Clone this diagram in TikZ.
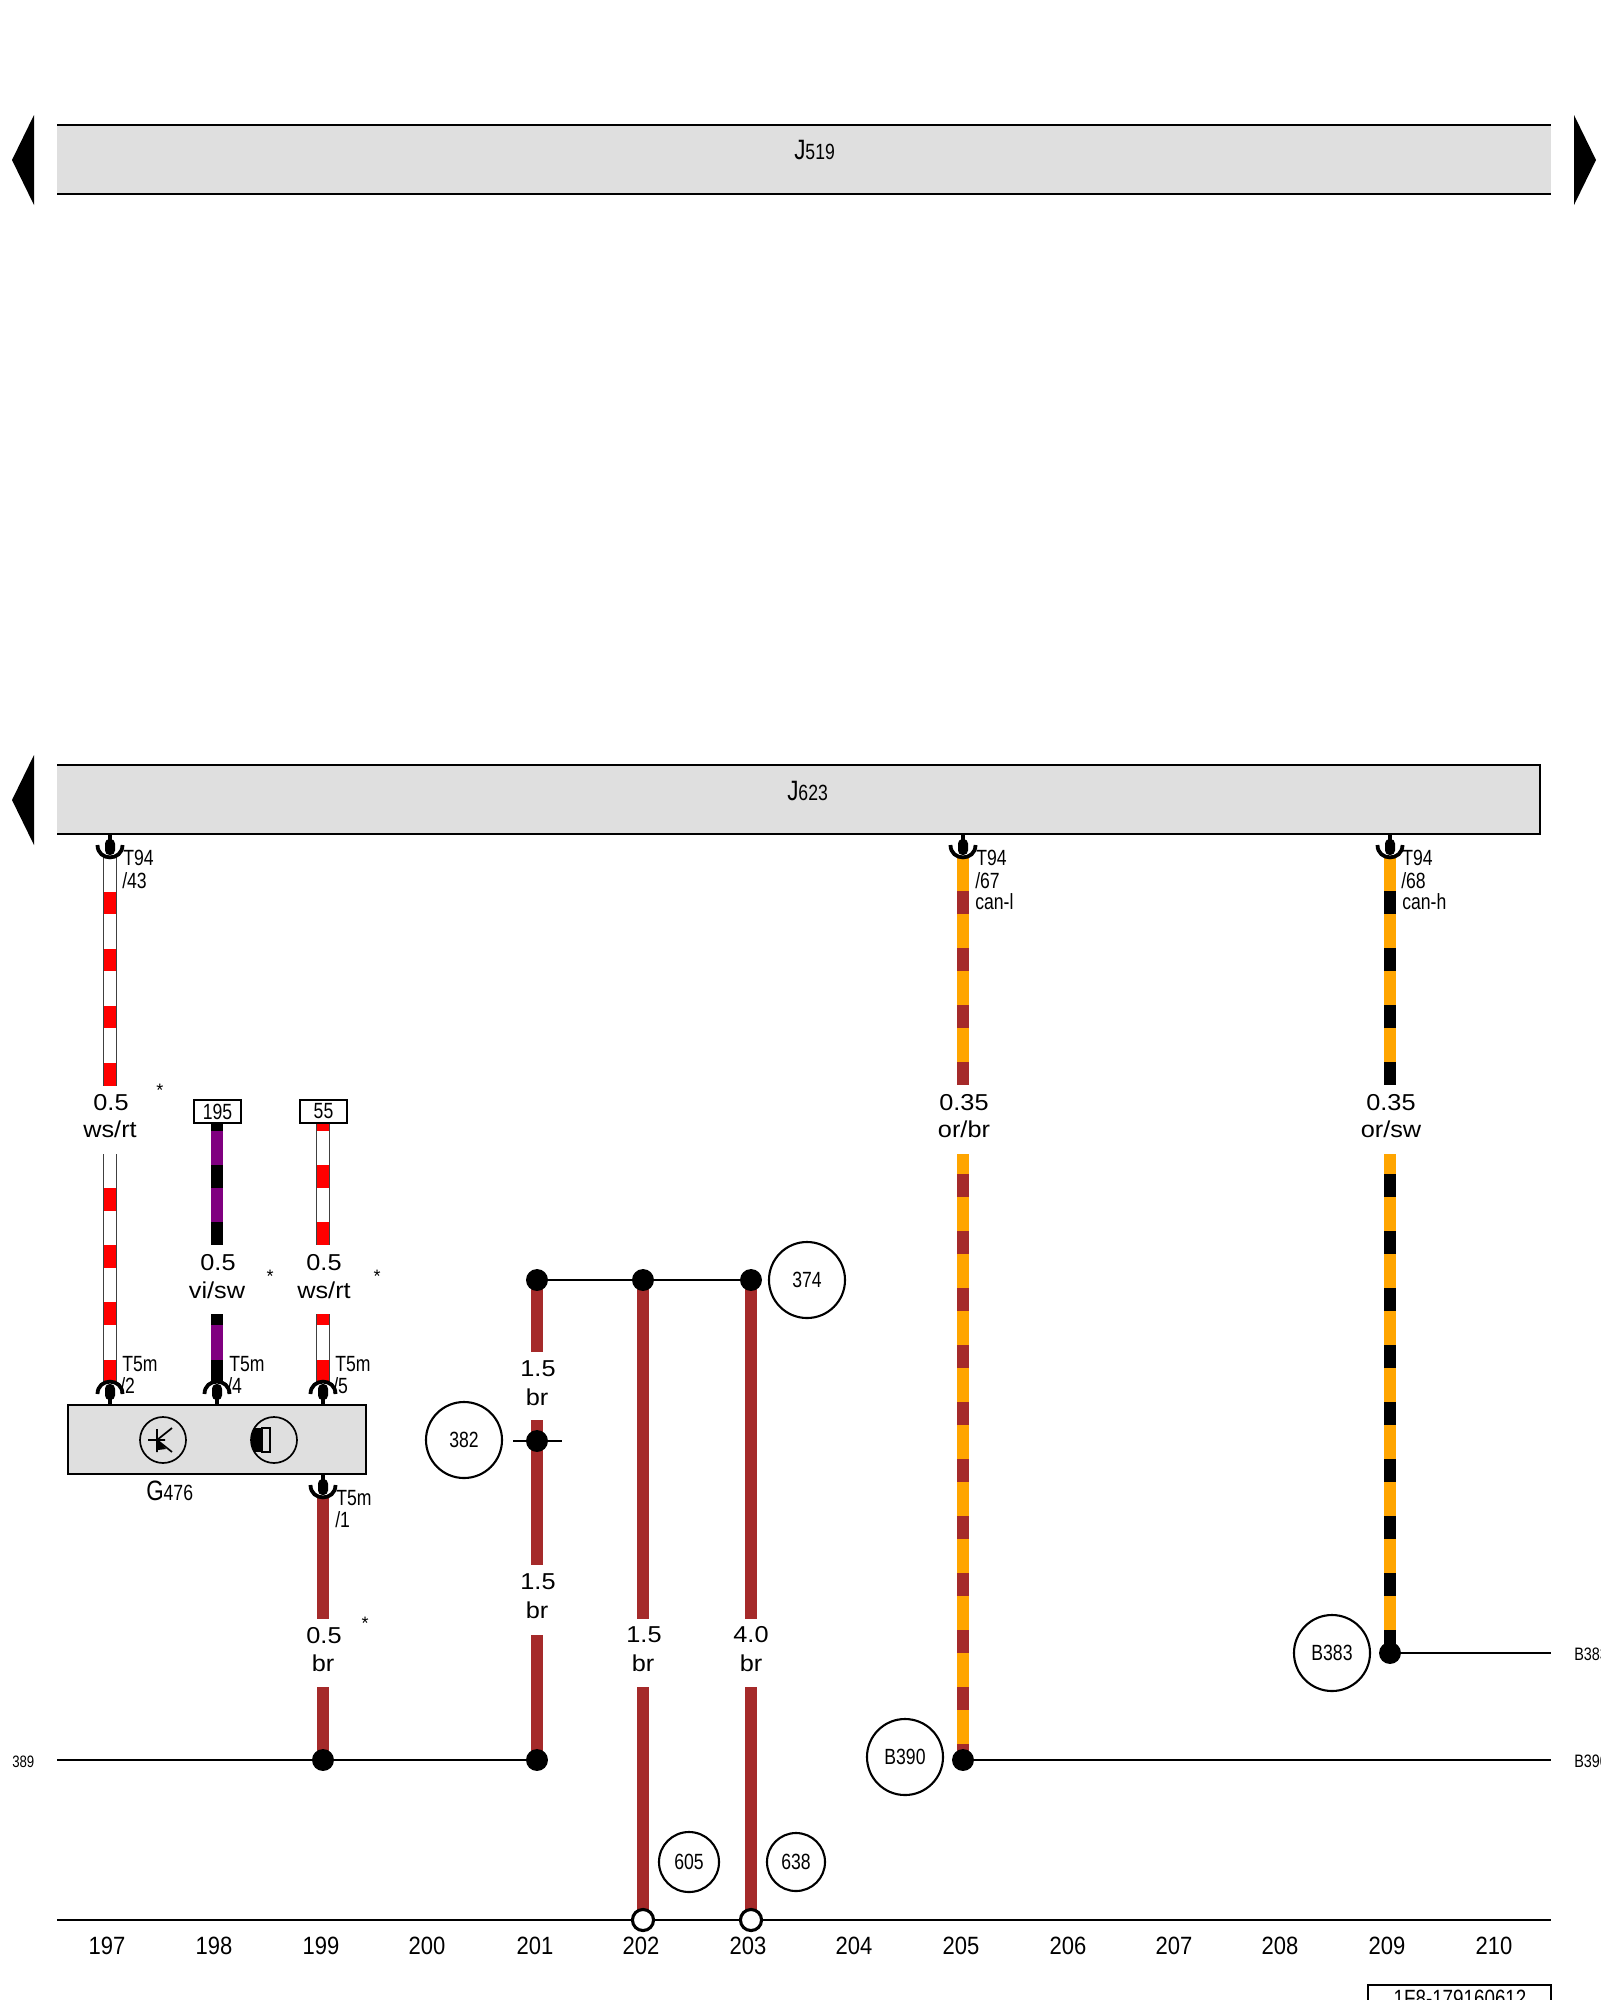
\documentclass[tikz,border=0pt]{standalone}
\usepackage{fontspec}
\setmainfont{Liberation Sans}
\newfontfamily\narrowf[FakeStretch=0.8]{Liberation Sans}
\newfontfamily\colf[FakeStretch=0.88]{Liberation Sans}
\newfontfamily\widef[FakeStretch=1.1]{Liberation Sans}
\definecolor{barfill}{HTML}{DFDFDF}
\definecolor{wbrown}{HTML}{A52A2A}
\definecolor{worange}{HTML}{FFA500}
\definecolor{wpurple}{HTML}{800080}
\definecolor{wred}{HTML}{FF0000}
% 1 px = 0.025 cm = 0.7113 pt
\newcommand{\fpx}[1]{\fontsize{\fpeval{#1*0.7113}pt}{\fpeval{#1*0.85}pt}\selectfont}
\tikzset{
  bar/.style={draw=none,fill=barfill},
  thinline/.style={line width=1.9pt,black},
  cupline/.style={line width=2.7pt,black},
  wirecol/.style={line width=8.4pt,#1},
  dotnode/.style={circle,fill=black,inner sep=0pt,minimum size=15.6pt},
  opennode/.style={circle,draw=black,fill=white,line width=2.2pt,inner sep=0pt,minimum size=15pt},
  badge/.style={circle,draw=black,line width=1.5pt,inner sep=0pt,minimum size=#1*0.7113pt,font=\narrowf\fpx{22}},
  lab/.style={anchor=base,inner sep=0pt,font=\widef\fpx{23}},
  pin/.style={anchor=base west,inner sep=0pt,font=\narrowf\fpx{22}},
  col/.style={anchor=base,inner sep=0pt,font=\colf\fpx{25}},
  starlab/.style={inner sep=0pt,font=\fpx{18}},
  tiny/.style={anchor=base west,inner sep=0pt,font=\narrowf\fpx{16.5}},
  edge label/.style={anchor=base west,inner sep=0pt,font=\narrowf\fpx{18}},
  tag/.style={draw=black,line width=1.6pt,fill=white,inner sep=0pt,minimum width=33.4pt,minimum height=16.4pt,font=\narrowf\fpx{22}},
  rw/.style={wirecol={wred,line width=9.2pt}}
}
% striped piece list: x, colour, list of y1/y2
\newcommand{\stripes}[3]{\foreach \ya/\yb in {#3}{\draw[wirecol={#2}] (#1,\ya) -- (#1,\yb);}}
% white wire with outline
\newcommand{\whitewire}[3]{\fill[white] (#1-6.5,#2) rectangle (#1+6.5,#3);
  \draw[line width=0.8pt,black!75] (#1-6.5,#2) -- (#1-6.5,#3) (#1+6.5,#2) -- (#1+6.5,#3);}
% connector below a component: x, y of component edge
\newcommand{\plugbelow}[2]{\draw[line width=2.2pt] (#1,#2) -- (#1,#2+10);
  \fill[rounded corners=3.2pt] (#1-5,#2+5) rectangle (#1+5,#2+21);
  \draw[cupline] (#1-12.5,#2+11) .. controls (#1-12.5,#2+27.5) and (#1+12.5,#2+27.5) .. (#1+12.5,#2+11);}
% connector above a component
\newcommand{\plugabove}[2]{\draw[line width=2.2pt] (#1,#2) -- (#1,#2-10);
  \fill[rounded corners=3.2pt] (#1-5,#2-5) rectangle (#1+5,#2-21);
  \draw[cupline] (#1-12.5,#2-11) .. controls (#1-12.5,#2-27.5) and (#1+12.5,#2-27.5) .. (#1+12.5,#2-11);}
\begin{document}
\begin{tikzpicture}[x=0.025cm,y=-0.025cm]
\useasboundingbox (0,0) rectangle (1600,2000);
% ---- J519
\fill[bar] (57,125) rectangle (1551,194);
\draw[thinline] (57,125) -- (1551,125) (57,194) -- (1551,194);
\node[anchor=base west,inner sep=0pt] (j519) at (794,159) {\narrowf\fpx{28}J\fpx{22}519};
\fill (12,160) -- (34,115) -- (34,205) -- cycle;
\fill (1596,160) -- (1574,115) -- (1574,205) -- cycle;
% ---- J623
\fill[bar] (57,765) rectangle (1540,834);
\draw[thinline] (57,765) -- (1540,765) -- (1540,834) -- (57,834);
\node[anchor=base west,inner sep=0pt] (j623) at (787,800) {\narrowf\fpx{28}J\fpx{22}623};
\fill (12,800) -- (34,755) -- (34,845) -- cycle;
% ---- wire 197
\whitewire{110}{857}{1086}
\stripes{110}{wred,line width=9.2pt}{892/914,949/971,1006/1028,1063/1086}
\whitewire{110}{1154}{1383}
\stripes{110}{wred,line width=9.2pt}{1188/1211,1245/1268,1302/1325,1360/1383}
% ---- wire 198
\stripes{217}{wpurple}{1124/1245,1314/1383}
\stripes{217}{black}{1124/1131,1165/1188,1222/1245,1314/1325,1360/1383}
% ---- wire 199
\whitewire{323}{1124}{1245}
\stripes{323}{wred,line width=9.2pt}{1124/1131,1165/1188,1222/1245}
\whitewire{323}{1314}{1383}
\stripes{323}{wred,line width=9.2pt}{1314/1325,1360/1383}
\stripes{323}{wbrown}{1497/1619,1687/1760}
% ---- wire 201/202/203
\stripes{537}{wbrown}{1280/1352,1420/1565,1635/1760}
\stripes{643}{wbrown}{1280/1619,1687/1920}
\stripes{751}{wbrown}{1280/1619,1687/1920}
% ---- wire 205
\stripes{963}{worange}{857/1085,1154/1760}
\stripes{963}{wbrown}{891/914,948/971,1005/1028,1062/1085}
\stripes{963}{wbrown}{1174/1197,1231/1254,1288/1311,1345/1368,1402/1425,1459/1482,1516/1539,1573/1596,1630/1653,1687/1710,1744/1760}
% ---- wire 209
\stripes{1390}{worange}{857/1085,1154/1653}
\stripes{1390}{black}{891/914,948/971,1005/1028,1062/1085}
\stripes{1390}{black}{1174/1197,1231/1254,1288/1311,1345/1368,1402/1425,1459/1482,1516/1539,1573/1596,1630/1653}
% ---- connectors on J623
\plugbelow{110}{834}
\plugbelow{963}{834}
\plugbelow{1390}{834}
% ---- G476
\node[draw=black,line width=2pt,fill=barfill,minimum width=212pt,minimum height=49pt,inner sep=0pt] (g476) at (217,1439.5) {};
\plugabove{110}{1405}
\plugabove{217}{1405}
\plugabove{323}{1405}
\plugbelow{323}{1474}
\node[anchor=base west,inner sep=0pt] (g476lab) at (146,1500) {\narrowf\fpx{28}G\fpx{22}476};
% light-sensor symbols
\draw[line width=1.2pt] (163,1440) circle [radius=23];
\draw[line width=1.2pt] (148,1440) -- (165,1440) (157,1429) -- (157,1452) (172,1428) -- (157,1440) -- (172,1452);
\fill (156,1437) -- (166,1449) -- (158,1450) -- cycle;
\begin{scope}
\clip (274,1440) circle [radius=23];
\fill (250,1428) rectangle (262,1452);
\end{scope}
\fill (251,1434) -- (262,1428) -- (262,1452) -- (251,1446) -- cycle;
\draw[line width=1.2pt] (262,1428) rectangle (270,1452);
\draw[line width=1.2pt] (274,1440) circle [radius=23];
% ---- horizontal lines and junctions
\node[dotnode] (d199) at (323,1760) {};
\node[dotnode] (d201b) at (537,1760) {};
\node[dotnode] (d205) at (963,1760) {};
\node[dotnode] (d209) at (1390,1653) {};
\node[dotnode] (d201t) at (537,1280) {};
\node[dotnode] (d202t) at (643,1280) {};
\node[dotnode] (d203t) at (751,1280) {};
\node[dotnode] (d201m) at (537,1441) {};
\coordinate (l389) at (57,1760);
\coordinate (r390) at (1551,1760);
\coordinate (r383) at (1551,1653);
\coordinate (bl) at (57,1920);
\coordinate (br) at (1551,1920);
\coordinate (xa) at (513,1441);
\coordinate (xb) at (562,1441);
\draw[thinline] (l389) -- (d199) -- (d201b);
\draw[thinline] (d205) -- (r390);
\draw[thinline] (d209) -- (r383);
\draw[thinline] (d201t) -- (d202t) -- (d203t);
\draw[thinline] (xa) -- (d201m) -- (xb);
\draw[thinline] (bl) -- (br);
\node[opennode] (o202) at (643,1920) {};
\node[opennode] (o203) at (751,1920) {};
% ---- badges
\node[badge=76] (b382) at (464,1440) {382};
\node[badge=76] (b374) at (807,1280) {374};
\node[badge=60] (b605) at (689,1862) {605};
\node[badge=58] (b638) at (796,1862) {638};
\node[badge=76] (b390) at (905,1757) {B390};
\node[badge=76] (b383) at (1332,1653) {B383};
% ---- tags
\node[tag] (t195) at (217.5,1111.5) {195};
\node[tag] (t55) at (323.5,1111.5) {55};
% ---- wire labels
\node[lab] (a1) at (111,1110) {0.5};
\node[lab] (a2) at (110,1137) {ws/rt};
\node[lab] (a3) at (218,1270) {0.5};
\node[lab] (a4) at (217,1298) {vi/sw};
\node[lab] (a5) at (324,1270) {0.5};
\node[lab] (a6) at (324,1298) {ws/rt};
\node[lab] (a7) at (324,1643) {0.5};
\node[lab] (a8) at (323,1671) {br};
\node[lab] (a9) at (538,1376) {1.5};
\node[lab] (a10) at (537,1405) {br};
\node[lab] (a11) at (538,1589) {1.5};
\node[lab] (a12) at (537,1618) {br};
\node[lab] (a13) at (644,1642) {1.5};
\node[lab] (a14) at (643,1671) {br};
\node[lab] (a15) at (751,1642) {4.0};
\node[lab] (a16) at (751,1671) {br};
\node[lab] (a17) at (964,1110) {0.35};
\node[lab] (a18) at (964,1137) {or/br};
\node[lab] (a19) at (1391,1110) {0.35};
\node[lab] (a20) at (1391,1137) {or/sw};
\node[starlab] (s1) at (160,1090) {*};
\node[starlab] (s2) at (270,1276) {*};
\node[starlab] (s3) at (377,1276) {*};
\node[starlab] (s4) at (365,1623) {*};
% ---- pin labels
\node[pin] (p1) at (123,865) {T94};
\node[pin] (p2) at (122,888) {/43};
\node[pin] (p3) at (976,865) {T94};
\node[pin] (p4) at (975,888) {/67};
\node[pin] (p5) at (975,909) {can-l};
\node[pin] (p6) at (1402,865) {T94};
\node[pin] (p7) at (1401,888) {/68};
\node[pin] (p8) at (1402,909) {can-h};
\node[pin] (p9) at (122,1371) {T5m};
\node[pin] (p10) at (120,1393) {/2};
\node[pin] (p11) at (229,1371) {T5m};
\node[pin] (p12) at (227,1393) {/4};
\node[pin] (p13) at (335,1371) {T5m};
\node[pin] (p14) at (333,1393) {/5};
\node[pin] (p15) at (336,1505) {T5m};
\node[pin] (p16) at (335,1527) {/1};
\node[tiny] (n389) at (12,1767) {389};
\node[edge label] (n383) at (1574,1660) {B383};
\node[edge label] (n390) at (1574,1767) {B390};
% ---- column numbers
\foreach \n/\x in {197/107,198/214,199/321,200/427,201/535,202/641,203/748,204/854,205/961,206/1068,207/1174,208/1280,209/1387,210/1494}
  \node[col] (c\n) at (\x,1954) {\n};
% ---- reference box, cut by the page edge
\draw[line width=2pt] (1368,2020) -- (1368,1985) -- (1551,1985) -- (1551,2020);
\node[anchor=base,inner sep=0pt,font=\narrowf\fpx{23.5}] (ref) at (1460,2006) {1F8-179160612};
\end{tikzpicture}
\end{document}
